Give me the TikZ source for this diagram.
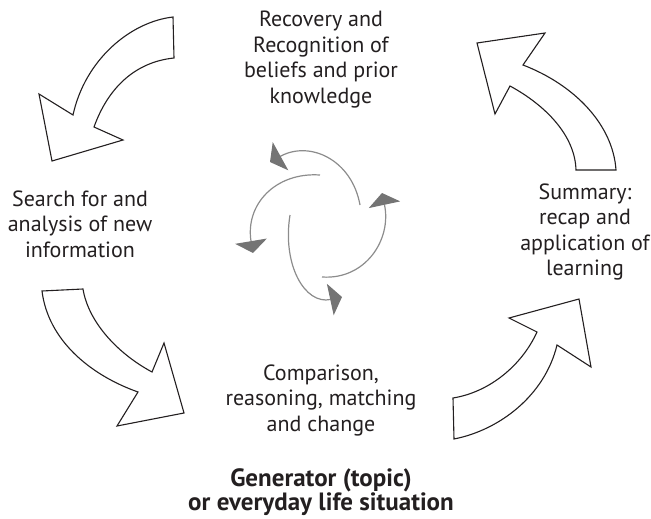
\documentclass[tikz,border=0pt]{standalone}
\usepackage{fontspec}
\setmainfont{PT Sans}
\usetikzlibrary{arrows.meta}
\definecolor{ink}{HTML}{231F20}
\definecolor{wheel}{HTML}{8C8C8C}
\definecolor{wheelhead}{HTML}{747474}
\tikzset{
  bigarrow/.style={draw=ink, line width=1.1pt, fill=white, line join=miter},
  stage/.style={text=ink, align=center, inner sep=0pt,
    font=\fontsize{22}{25.5}\selectfont},
  topic/.style={text=ink, align=center, inner sep=0pt,
    font=\fontsize{25}{23.5}\selectfont\bfseries},
  turn/.style={draw=wheel, line width=1.2pt,
    -{Triangle[width=32pt,length=12pt,color=wheelhead,fill=wheelhead]}}
}
\begin{document}
\begin{tikzpicture}[x=1pt,y=-1pt]
\useasboundingbox (0,0) rectangle (651,519);

% stage texts
\node[stage] (recover) at (321,59.5) {Recovery and\\Recognition of\\beliefs and prior\\knowledge};
\node[stage] (search) at (80,224) {Search for and\\analysis of new\\information};
\node[stage] (summary) at (585,232) {Summary:\\recap and\\application of\\learning};
\node[stage] (compare) at (321,400) {Comparison,\\reasoning, matching\\and change};
\node[topic] (generator) at (321,492) {Generator (topic)\\or everyday life situation};

% outline arrows between the stages
% top left: towards the search stage
\draw[bigarrow] (173,17) .. controls (130,22) and (85,60) .. (73,115)
  -- (39,94) -- (52,161) -- (123,140) -- (94,127)
  .. controls (108,88) and (135,62) .. (174,58) -- cycle;
% bottom left: towards comparison
\draw[bigarrow] (83,289) .. controls (88,320) and (115,352) .. (152,372)
  -- (164,343) -- (184,413) -- (117,426) -- (138,392)
  .. controls (90,375) and (48,340) .. (42,291) -- cycle;
% bottom right: towards the summary
\draw[bigarrow] (453,398) .. controls (490,392) and (522,365) .. (537,332)
  -- (509,318) -- (579,299) -- (591,367) -- (557,345)
  .. controls (545,395) and (500,430) .. (454,439) -- cycle;
% top right: back to recovery
\draw[bigarrow] (616,170) .. controls (613,125) and (575,85) .. (523,65)
  -- (545,33) -- (477,43) -- (495,114) -- (510,86)
  .. controls (545,105) and (575,135) .. (576,170) -- cycle;

% central turning wheel
\coordinate (w1a) at (360,205); \coordinate (w1b) at (270,162);
\coordinate (w2a) at (320,175); \coordinate (w2b) at (253,253);
\coordinate (w3a) at (290,215); \coordinate (w3b) at (342,297);
\coordinate (w4a) at (322,277); \coordinate (w4b) at (382,193);
\draw[turn] (w1a) .. controls (352,160) and (310,140) .. (w1b);
\draw[turn] (w2a) .. controls (275,172) and (245,205) .. (w2b);
\draw[turn] (w3a) .. controls (282,265) and (305,305) .. (w3b);
\draw[turn] (w4a) .. controls (365,280) and (392,240) .. (w4b);
\end{tikzpicture}
\end{document}
